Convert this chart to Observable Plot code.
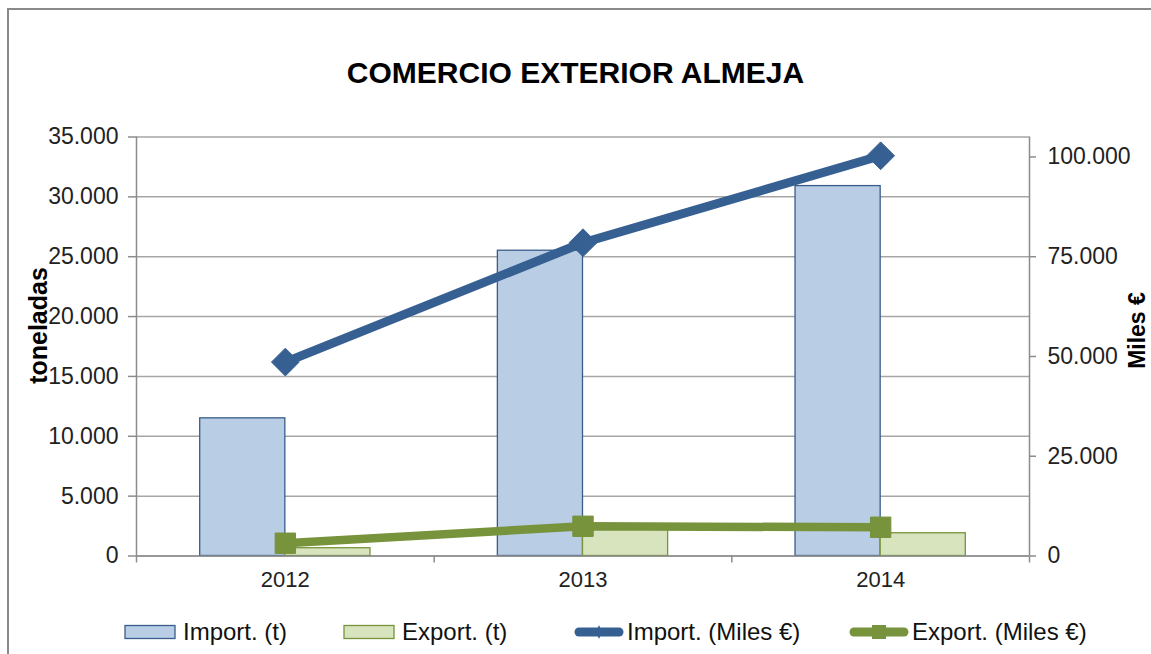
<!DOCTYPE html>
<html><head><meta charset="utf-8">
<script src="https://cdn.jsdelivr.net/npm/d3@7"></script>
<script src="https://cdn.jsdelivr.net/npm/@observablehq/plot@0.6"></script>
<style>
body{margin:0;background:#fff;font-family:"Liberation Sans",Arial,sans-serif;overflow:hidden;}
#wrap{position:relative;width:1151px;height:654px;overflow:hidden;}
#frame{position:absolute;left:7px;top:8px;width:1200px;height:700px;border-top:2px solid #8a8a8a;border-left:2px solid #8a8a8a;}
#chart{position:absolute;left:0;top:0;}
#title{position:absolute;left:0;top:55px;width:1151px;text-align:center;font-weight:bold;font-size:30px;line-height:36px;color:#000;}
#legend{position:absolute;left:0;top:610px;width:1151px;height:44px;}
.item{position:absolute;top:0;height:44px;display:flex;align-items:center;font-size:24px;color:#111;white-space:nowrap;}
.item svg{display:block;}
</style>
</head><body>
<div id="wrap">
  <div id="frame"></div>
  <div id="chart"></div>
  <div id="title">COMERCIO EXTERIOR ALMEJA</div>
  <div id="legend"></div>
</div>
<script>
const years = ["2012", "2013", "2014"];
const importT = [11500, 25500, 30900];
const exportT = [650, 2200, 1900];
const importEur = [48600, 78500, 100300];
const exportEur = [3200, 7450, 7200];
const leftTicks = [0, 5000, 10000, 15000, 20000, 25000, 30000, 35000];
const rightTicks = [0, 25000, 50000, 75000, 100000];
const seriesNames = ["Import. (t)", "Export. (t)", "Import. (Miles €)", "Export. (Miles €)"];
const leftTitle = "toneladas";
const rightTitle = "Miles €";

const locale = d3.formatLocale({decimal: ",", thousands: ".", grouping: [3], currency: ["", "€"]});
const fmt = locale.format(",d");
const leftMax = 35000, rightMax = 105000;
const k = leftMax / rightMax;
const bw = 0.286;

const C = {impFill: "#b9cde5", impStroke: "#385d8a", expFill: "#d7e4bd", expStroke: "#77933c",
           impLine: "#376092", expLine: "#77933c", grid: "#a6a6a6", axis: "#8c8c8c"};

const rows = years.map((year, i) => ({
  year, i,
  importT: importT[i], exportT: exportT[i],
  importEur: importEur[i] * k, exportEur: exportEur[i] * k
}));

const font = '"Liberation Sans", Arial, sans-serif';

const chart = Plot.plot({
  width: 1151, height: 600,
  marginLeft: 136, marginRight: 122, marginTop: 136.5, marginBottom: 44.5,
  style: {fontFamily: font, fontSize: "22px", color: "#222", background: "transparent", overflow: "visible"},
  x: {type: "linear", domain: [-0.5, 2.5]},
  y: {domain: [0, leftMax]},
  marks: [
    Plot.gridY(leftTicks, {stroke: C.grid, strokeOpacity: 1, strokeWidth: 1.5}),
    Plot.rectY(rows, {x1: d => d.i - bw, x2: d => d.i, y: "importT", fill: C.impFill, stroke: C.impStroke, strokeWidth: 1.3}),
    Plot.rectY(rows, {x1: d => d.i, x2: d => d.i + bw, y: "exportT", fill: C.expFill, stroke: C.expStroke, strokeWidth: 1.3}),
    Plot.ruleX([-0.5, 2.5], {stroke: C.axis, strokeWidth: 1.5}),
    Plot.ruleY([0], {stroke: C.axis, strokeWidth: 1.5}),
    Plot.axisX([-0.5, 0.5, 1.5, 2.5], {tickSize: 7, tickFormat: () => "", stroke: C.axis, strokeWidth: 1.5, label: null}),
    Plot.axisX([0, 1, 2], {tickSize: 0, tickPadding: 15, tickFormat: i => years[i], fontSize: 22, label: null}),
    Plot.axisY(leftTicks, {anchor: "left", tickSize: 8, tickPadding: 10, tickFormat: fmt, fontSize: 23, stroke: C.axis, strokeWidth: 1.5, label: null}),
    Plot.axisY(rightTicks.map(v => v * k), {anchor: "right", tickSize: 6, tickPadding: 12, tickFormat: v => fmt(Math.round(v / k)), fontSize: 23, stroke: C.axis, strokeWidth: 1.5, label: null}),
    Plot.line(rows, {x: "i", y: "importEur", stroke: C.impLine, strokeWidth: 9}),
    Plot.dot(rows, {x: "i", y: "importEur", symbol: "diamond2", r: 12.5, fill: C.impLine, stroke: C.impLine, strokeWidth: 1}),
    Plot.line(rows, {x: "i", y: "exportEur", stroke: C.expLine, strokeWidth: 8.5}),
    Plot.dot(rows, {x: "i", y: "exportEur", symbol: "square", r: 11.5, fill: C.expLine, stroke: C.expLine, strokeWidth: 1}),
    Plot.text([leftTitle], {frameAnchor: "left", textAnchor: "middle", rotate: -90, dx: -98, dy: -21, fontWeight: "bold", fontSize: 25, fill: "#000"}),
    Plot.text([rightTitle], {frameAnchor: "right", textAnchor: "middle", rotate: -90, dx: 108, dy: -16, fontWeight: "bold", fontSize: 23, fill: "#000"})
  ]
});
document.getElementById("chart").appendChild(chart);

// Legend
const legend = d3.select("#legend");
const legendLeft = [124, 343, 574, 849];
const legendKinds = ["barImp", "barExp", "lineImp", "lineExp"];
seriesNames.forEach((name, j) => {
  const item = legend.append("div").attr("class", "item").style("left", legendLeft[j] + "px");
  const kind = legendKinds[j];
  const isBar = kind.startsWith("bar");
  const w = isBar ? 52 : (kind === "lineImp" ? 50 : 60);
  const svg = item.append("svg").attr("width", w).attr("height", 24);
  if (isBar) {
    svg.append("rect").attr("x", 1).attr("y", 5.5).attr("width", 50).attr("height", 13)
      .attr("fill", kind === "barImp" ? C.impFill : C.expFill)
      .attr("stroke", kind === "barImp" ? C.impStroke : C.expStroke).attr("stroke-width", 1.3);
  } else {
    const col = kind === "lineImp" ? C.impLine : C.expLine;
    svg.append("line").attr("x1", 5).attr("x2", w - 5).attr("y1", 12).attr("y2", 12)
      .attr("stroke", col).attr("stroke-width", 9).attr("stroke-linecap", "round");
    if (kind === "lineImp") {
      svg.append("path").attr("d", `M${w/2},5 L${w/2+3},12 L${w/2},19 L${w/2-3},12Z`).attr("fill", col);
    } else {
      svg.append("rect").attr("x", w/2 - 7).attr("y", 5).attr("width", 14).attr("height", 14).attr("fill", col);
    }
  }
  item.append("span").style("margin-left", isBar ? "7px" : "3px").text(name);
});
</script>
</body></html>
